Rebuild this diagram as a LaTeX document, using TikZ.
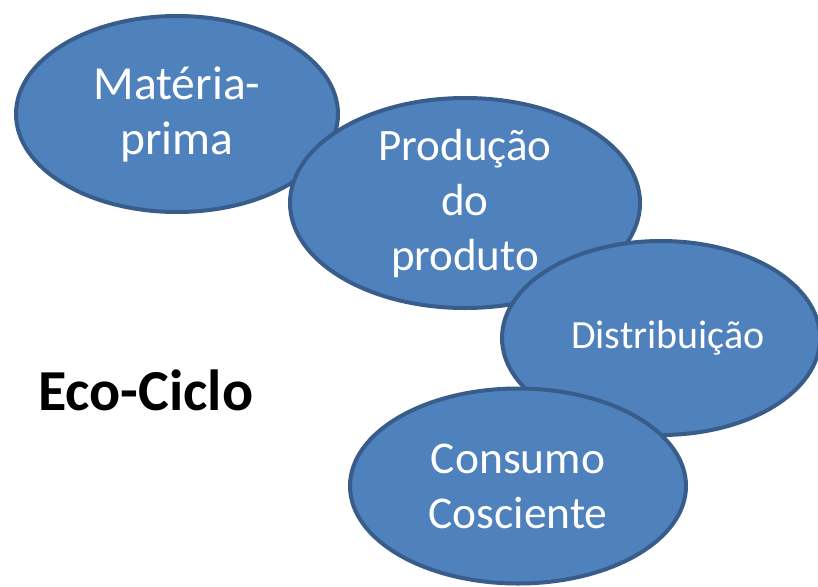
\documentclass[tikz,border=0pt]{standalone}
\usepackage{fontspec}
\setmainfont{Carlito}
\usetikzlibrary{shapes.geometric}
\definecolor{ecofill}{HTML}{4F81BD}
\definecolor{ecoline}{HTML}{385D8A}

\begin{document}
\begin{tikzpicture}[x=1pt,y=-1pt,
	bubble/.style={ellipse, draw=ecoline, fill=ecofill, line width=4pt, text=white, align=center, inner sep=0pt}]

	\useasboundingbox (0,0) rectangle (818,586);

	\node[bubble, minimum width=322pt, minimum height=196pt, font=\fontsize{47.5}{55}\selectfont] (materia) at (177,114) {Matéria-\\prima};
	\node[bubble, minimum width=350pt, minimum height=194pt, font=\fontsize{45}{55}\selectfont] (producao) at (465,203) {Produção\\do\\produto};
	\node[bubble, minimum width=318pt, minimum height=194pt, font=\fontsize{40}{48}\selectfont] (distribuicao) at (661,338) {\hspace*{14pt}Distribuição};
	\node[bubble, minimum width=336pt, minimum height=195pt, font=\fontsize{45.5}{55}\selectfont] (consumo) at (518,486) {Consumo\\Cosciente};

	\node[anchor=base west, inner sep=0pt, font=\bfseries\fontsize{58}{66}\selectfont] (ecociclo) at (38,410) {Eco-Ciclo};
\end{tikzpicture}
\end{document}
